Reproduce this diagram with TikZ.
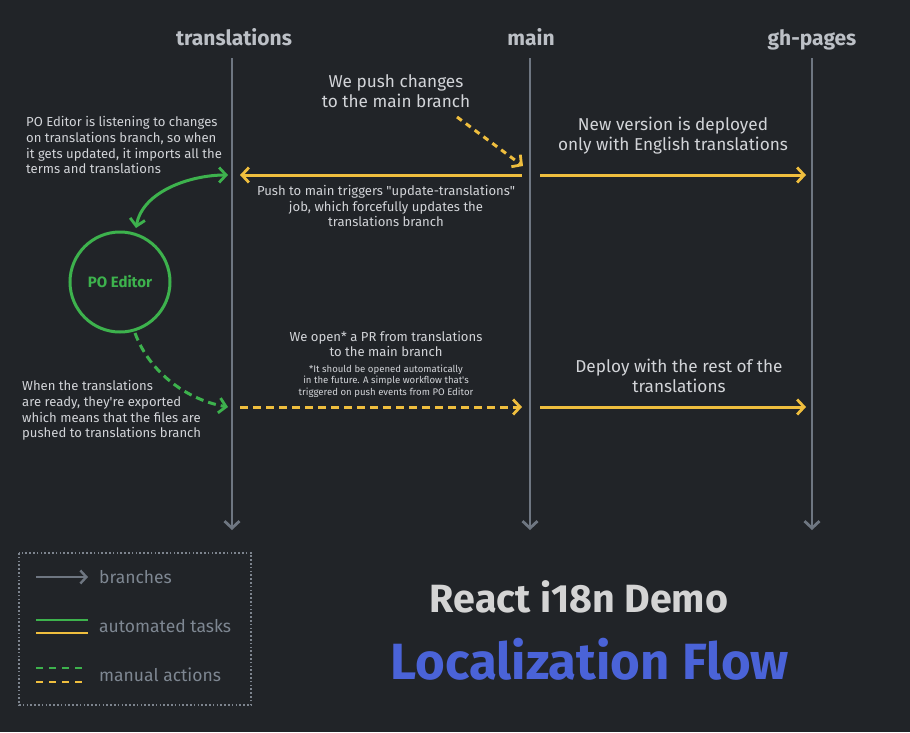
\documentclass[tikz,border=0pt]{standalone}
\usepackage{fontspec}
\setmainfont{Fira Sans}[Ligatures=TeXOff]
\usetikzlibrary{arrows.meta}
\definecolor{bg}{HTML}{212428}
\definecolor{branch}{HTML}{6E7681}
\definecolor{ylw}{HTML}{EFBE3E}
\definecolor{grn}{HTML}{3DB24D}
\definecolor{txt}{HTML}{D2D4D8}
\definecolor{legtxt}{HTML}{7E8792}
\definecolor{hdc}{HTML}{BCC0C6}
\definecolor{ttl}{HTML}{D4D4D4}
\definecolor{blu}{HTML}{4A63D8}
\tikzset{
  tip/.style={-{Straight Barb[length=7pt,width=15pt,line width=2.8pt]}},
  br/.style={draw=branch,line width=2.6pt,tip},
  auto/.style={draw=ylw,line width=3pt,tip},
  manual/.style={draw=ylw,line width=3pt,dash pattern=on 8pt off 5pt,tip},
  gauto/.style={draw=grn,line width=3pt},
  hd/.style={font=\bfseries\fontsize{21}{24}\selectfont,text=hdc,anchor=base},
  sm/.style={font=\fontsize{13.1}{15.8}\selectfont,text=txt,inner sep=0pt},
  md/.style={font=\fontsize{17.2}{20}\selectfont,text=txt,inner sep=0pt,align=center},
  tiny/.style={font=\fontsize{9.6}{11.6}\selectfont,text=txt,inner sep=0pt,align=center},
  leg/.style={font=\fontsize{17.5}{20}\selectfont,text=legtxt,anchor=west,inner sep=0pt},
}
\begin{document}
\begin{tikzpicture}[x=1pt,y=-1pt]
\fill[bg] (0,0) rectangle (910,732);
\useasboundingbox (0,0) rectangle (910,732);
% branch heads
\node[hd] (ht) at (234,45) {translations};
\node[hd] (hm) at (531,45) {main};
\node[hd] (hg) at (812,45) {gh-pages};
\coordinate (t0) at (232,58); \coordinate (t1) at (232,530);
\coordinate (m0) at (530,58); \coordinate (m1) at (530,530);
\coordinate (g0) at (812,58); \coordinate (g1) at (812,530);
\draw[br] (t0) -- (t1);
\draw[br] (m0) -- (m1);
\draw[br] (g0) -- (g1);
% anchor points
\coordinate (tA) at (240,175); \coordinate (mAin) at (522,175);
\coordinate (mAout) at (540,175); \coordinate (gA) at (806,175);
\coordinate (tB) at (240,407); \coordinate (mBin) at (522,407);
\coordinate (mBout) at (540,407); \coordinate (gB) at (806,407);
\coordinate (tG) at (228,175); \coordinate (tGb) at (228,407);
% texts
\node[md] (push) at (396,91) {We push changes\\to the main branch};
\coordinate (pushs) at (457,117);
\draw[manual,dash pattern=on 6pt off 5pt] (pushs) -- (523,166);
\draw[auto] (mAin) -- (tA);
\draw[auto] (mAout) -- (gA);
\node[md] (newv) at (673,136) {New version is deployed\\only with English translations};
\node[sm,align=center] (trig) at (386,206) {Push to main triggers "update-translations"\\job, which forcefully updates the\\translations branch};
\node[sm,align=left,anchor=north west] (listen) at (26,116) {PO Editor is listening to changes\\on translations branch, so when\\it gets updated, it imports all the\\terms and translations};
% PO editor
\node[circle,draw=grn,line width=3pt,minimum size=100pt,inner sep=0pt,text=grn,font=\bfseries\fontsize{15}{17}\selectfont] (po) at (120,282) {PO Editor};
\draw[gauto,{Straight Barb[length=7pt,width=15pt,line width=2.8pt]}-{Straight Barb[length=7pt,width=15pt,line width=2.8pt]}] (136,228) to[out=80,in=180,looseness=0.9] (tG);
\draw[draw=grn,line width=3pt,dash pattern=on 8pt off 5pt,tip] (135,333) to[out=-70,in=170,looseness=0.9] (tGb);
\draw[manual] (tB) -- (mBin);
\draw[auto] (mBout) -- (gB);
\node[sm,align=center] (open) at (386,344) {We open* a PR from translations\\to the main branch};
\node[tiny] (note) at (386,381) {*It should be opened automatically\\in the future. A simple workflow that's\\triggered on push events from PO Editor};
\node[md] (dep) at (679,376) {Deploy with the rest of the\\translations};
\node[sm,align=left,anchor=north west] (ready) at (22,380) {When the translations\\are ready, they're exported\\which means that the files are\\pushed to translations branch};
% legend
\draw[draw=branch!90!white,line width=2.2pt,dash pattern=on 1.6pt off 2.2pt] (19,553) rectangle (251,705);
\coordinate (l1a) at (36,577); \coordinate (l1b) at (88,577);
\draw[br,line width=2.4pt,-{Straight Barb[length=6pt,width=13pt,line width=2.4pt]}] (l1a) -- (l1b);
\node[leg] (lb) at (99,577) {branches};
\coordinate (l2a) at (36,620); \coordinate (l2b) at (88,620);
\coordinate (l3a) at (36,633); \coordinate (l3b) at (88,633);
\draw[grn,line width=2.6pt] (l2a) -- (l2b);
\draw[ylw,line width=2.6pt] (l3a) -- (l3b);
\node[leg] (la) at (99,626) {automated tasks};
\coordinate (l4a) at (36,668); \coordinate (l4b) at (88,668);
\coordinate (l5a) at (36,682); \coordinate (l5b) at (88,682);
\draw[grn,line width=2.6pt,dash pattern=on 7pt off 6pt] (l4a) -- (l4b);
\draw[ylw,line width=2.6pt,dash pattern=on 7pt off 6pt] (l5a) -- (l5b);
\node[leg] (lm) at (99,675) {manual actions};
% title
\node[text=ttl,inner sep=0pt] (t1n) at (579,597) {\resizebox{298pt}{!}{\bfseries React i18n Demo}};
\node[text=blu,inner sep=0pt] (t2n) at (590,659) {\resizebox{398pt}{!}{\bfseries Localization Flow}};
\end{tikzpicture}
\end{document}
